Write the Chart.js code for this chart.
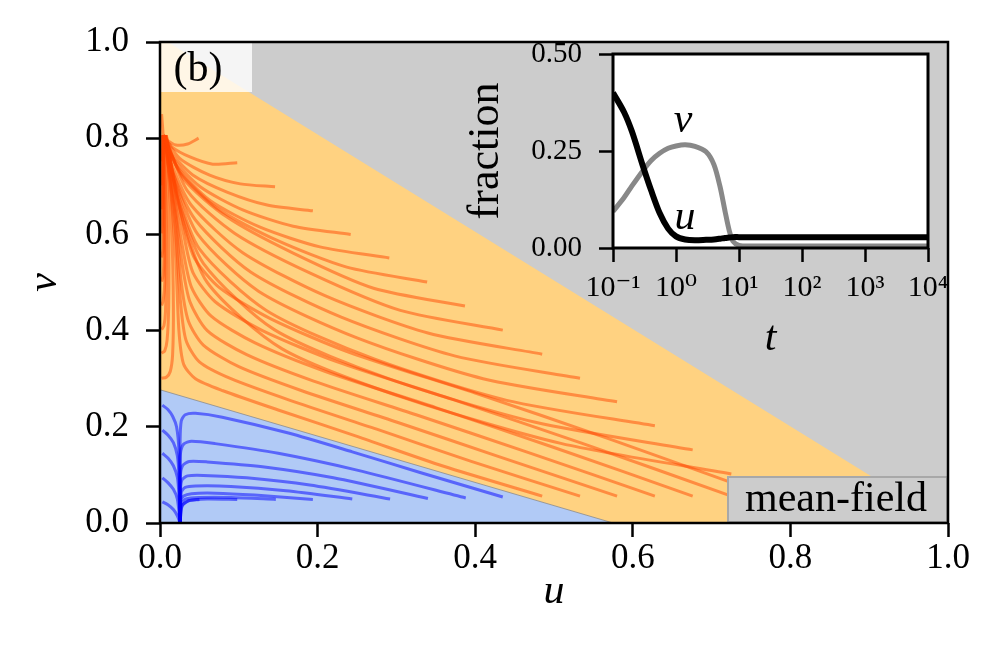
<!DOCTYPE html>
<html>
<head>
<meta charset="utf-8">
<script src="https://cdn.jsdelivr.net/npm/chart.js@4.4.1/dist/chart.umd.min.js"></script>
<style>
  body { margin: 0; background: #fff; }
  #wrap { position: relative; width: 1001px; height: 668px; }
  #main { position: absolute; left: 0; top: 0; }
  #inset { position: absolute; left: 440px; top: 18px; }
</style>
</head>
<body>
<div id="wrap">
  <canvas id="main" width="1001" height="668"></canvas>
  <canvas id="inset" width="518" height="352"></canvas>
</div>
<script>
// regions of the phase plane
const orangeRegion = [[0, 0], [0, 1.01], [0.9, 0.1], [1.0, 0], [0, 0]];
const blueRegion = [[0, 0], [0, 0.277], [0.575, 0], [0, 0]];

// orange trajectories starting on the diagonal edge
const orangeDiagonal = [
  [[0.049, 0.800], [0.035, 0.788], [0.020, 0.786], [0.010, 0.795], [0.004, 0.806]],
  [[0.098, 0.749], [0.067, 0.746], [0.038, 0.761], [0.015, 0.782], [0.004, 0.806]],
  [[0.146, 0.699], [0.102, 0.705], [0.063, 0.723], [0.025, 0.758], [0.004, 0.806]],
  [[0.194, 0.649], [0.136, 0.661], [0.085, 0.688], [0.042, 0.723], [0.015, 0.768], [0.004, 0.806]],
  [[0.242, 0.600], [0.169, 0.617], [0.105, 0.651], [0.051, 0.699], [0.018, 0.755], [0.004, 0.806]],
  [[0.291, 0.551], [0.203, 0.574], [0.127, 0.615], [0.063, 0.671], [0.022, 0.740], [0.004, 0.806]],
  [[0.339, 0.501], [0.237, 0.532], [0.148, 0.588], [0.072, 0.655], [0.025, 0.730], [0.004, 0.806]],
  [[0.387, 0.451], [0.271, 0.488], [0.169, 0.561], [0.085, 0.636], [0.030, 0.715], [0.005, 0.806]],
  [[0.435, 0.401], [0.305, 0.442], [0.190, 0.520], [0.095, 0.602], [0.035, 0.690], [0.006, 0.806]],
  [[0.485, 0.351], [0.340, 0.395], [0.210, 0.472], [0.105, 0.562], [0.040, 0.660], [0.015, 0.745], [0.006, 0.806]],
  [[0.533, 0.301], [0.375, 0.347], [0.230, 0.428], [0.115, 0.522], [0.045, 0.630], [0.016, 0.730], [0.006, 0.806]],
  [[0.580, 0.252], [0.410, 0.300], [0.250, 0.385], [0.125, 0.482], [0.048, 0.600], [0.018, 0.720], [0.007, 0.806]],
  [[0.628, 0.202], [0.440, 0.255], [0.270, 0.342], [0.135, 0.442], [0.050, 0.570], [0.020, 0.700], [0.007, 0.806]],
  [[0.676, 0.152], [0.475, 0.210], [0.290, 0.300], [0.145, 0.402], [0.055, 0.540], [0.022, 0.680], [0.008, 0.806]],
  [[0.725, 0.102], [0.510, 0.165], [0.310, 0.260], [0.155, 0.362], [0.060, 0.500], [0.024, 0.660], [0.008, 0.806]]
];

// orange trajectories starting on the bottom edge (v = 0.05)
const orangeBottom = [
  [[0.485, 0.056], [0.360, 0.118], [0.250, 0.180], [0.150, 0.235], [0.080, 0.275], [0.045, 0.300], [0.030, 0.330], [0.024, 0.400], [0.020, 0.550], [0.012, 0.720], [0.006, 0.806]],
  [[0.533, 0.056], [0.395, 0.128], [0.275, 0.195], [0.165, 0.255], [0.090, 0.300], [0.050, 0.335], [0.033, 0.380], [0.026, 0.460], [0.020, 0.600], [0.011, 0.740], [0.006, 0.806]],
  [[0.580, 0.056], [0.430, 0.138], [0.300, 0.210], [0.180, 0.275], [0.100, 0.325], [0.055, 0.370], [0.036, 0.420], [0.027, 0.500], [0.020, 0.630], [0.010, 0.750], [0.006, 0.806]],
  [[0.628, 0.056], [0.465, 0.148], [0.325, 0.225], [0.195, 0.295], [0.110, 0.350], [0.060, 0.400], [0.038, 0.460], [0.028, 0.540], [0.019, 0.660], [0.010, 0.760], [0.006, 0.806]],
  [[0.676, 0.056], [0.500, 0.157], [0.350, 0.240], [0.210, 0.315], [0.120, 0.375], [0.065, 0.430], [0.040, 0.490], [0.029, 0.570], [0.018, 0.680], [0.010, 0.765], [0.006, 0.806]],
  [[0.725, 0.056], [0.535, 0.166], [0.375, 0.255], [0.225, 0.335], [0.130, 0.400], [0.070, 0.460], [0.042, 0.520], [0.030, 0.600], [0.018, 0.700], [0.009, 0.770], [0.006, 0.806]],
  [[0.773, 0.056], [0.570, 0.175], [0.400, 0.270], [0.240, 0.355], [0.140, 0.425], [0.075, 0.490], [0.044, 0.550], [0.030, 0.620], [0.018, 0.710], [0.009, 0.775], [0.006, 0.806]]
];

// orange trajectories starting at the left edge
const orangeLeft = [
  [[0.002, 0.301], [0.008, 0.303], [0.013, 0.315], [0.016, 0.350], [0.017, 0.450], [0.015, 0.600], [0.010, 0.740], [0.005, 0.806]],
  [[0.002, 0.353], [0.006, 0.358], [0.009, 0.380], [0.011, 0.450], [0.011, 0.600], [0.008, 0.740], [0.005, 0.806]],
  [[0.002, 0.402], [0.005, 0.410], [0.007, 0.440], [0.008, 0.550], [0.007, 0.700], [0.004, 0.806]],
  [[0.002, 0.452], [0.004, 0.462], [0.006, 0.500], [0.006, 0.650], [0.004, 0.806]],
  [[0.002, 0.502], [0.004, 0.515], [0.005, 0.560], [0.005, 0.700], [0.004, 0.806]],
  [[0.002, 0.552], [0.004, 0.570], [0.004, 0.650], [0.004, 0.806]],
  [[0.002, 0.602], [0.003, 0.620], [0.004, 0.700], [0.004, 0.806]],
  [[0.002, 0.652], [0.003, 0.670], [0.004, 0.806]],
  [[0.002, 0.702], [0.003, 0.720], [0.004, 0.806]],
  [[0.002, 0.752], [0.003, 0.770], [0.004, 0.806]],
  [[0.002, 0.850], [0.003, 0.830], [0.004, 0.806]]
];

// blue trajectories starting on the bottom edge
const blueBottom = [
  [[0.435, 0.054], [0.330, 0.105], [0.244, 0.148], [0.163, 0.187], [0.079, 0.220], [0.045, 0.228], [0.032, 0.225], [0.027, 0.212], [0.0255, 0.170], [0.0255, 0.0]],
  [[0.388, 0.052], [0.250, 0.110], [0.150, 0.145], [0.070, 0.165], [0.040, 0.170], [0.030, 0.164], [0.026, 0.145], [0.0255, 0.100], [0.0255, 0.0]],
  [[0.340, 0.051], [0.220, 0.094], [0.130, 0.117], [0.060, 0.127], [0.037, 0.128], [0.029, 0.120], [0.026, 0.100], [0.0255, 0.0]],
  [[0.292, 0.050], [0.190, 0.079], [0.110, 0.094], [0.055, 0.099], [0.035, 0.098], [0.028, 0.090], [0.026, 0.070], [0.0255, 0.0]],
  [[0.244, 0.050], [0.160, 0.067], [0.090, 0.076], [0.045, 0.077], [0.032, 0.074], [0.027, 0.064], [0.0255, 0.0]],
  [[0.194, 0.049], [0.120, 0.058], [0.070, 0.062], [0.040, 0.061], [0.030, 0.056], [0.026, 0.045], [0.0255, 0.0]],
  [[0.147, 0.049], [0.090, 0.053], [0.050, 0.053], [0.033, 0.050], [0.027, 0.040], [0.0255, 0.0]],
  [[0.098, 0.049], [0.060, 0.050], [0.038, 0.047], [0.028, 0.036], [0.0255, 0.0]],
  [[0.050, 0.049], [0.036, 0.046], [0.028, 0.035], [0.0255, 0.0]]
];

// blue trajectories starting at the left edge
const blueLeft = [
  [[0.003, 0.245], [0.010, 0.236], [0.016, 0.222], [0.021, 0.200], [0.024, 0.150], [0.0255, 0.0]],
  [[0.003, 0.193], [0.010, 0.183], [0.017, 0.167], [0.022, 0.140], [0.024, 0.100], [0.0255, 0.0]],
  [[0.003, 0.145], [0.010, 0.135], [0.017, 0.119], [0.022, 0.095], [0.024, 0.060], [0.0255, 0.0]],
  [[0.003, 0.094], [0.010, 0.084], [0.017, 0.070], [0.022, 0.050], [0.0255, 0.0]],
  [[0.003, 0.044], [0.010, 0.038], [0.017, 0.028], [0.022, 0.015], [0.0255, 0.0]]
];

const mainTicks = [0, 0.2, 0.4, 0.6, 0.8, 1.0];

// inset time series
const insetTime = [0.1, 0.15, 0.2, 0.3, 0.4, 0.55, 0.75, 1.0, 1.4, 2, 3, 4, 5, 6, 7, 8, 10, 15, 30, 100, 1000, 10000];
const uFraction = [0.400, 0.350, 0.300, 0.210, 0.150, 0.090, 0.050, 0.030, 0.022, 0.020, 0.021, 0.022, 0.024, 0.026, 0.027, 0.028, 0.028, 0.028, 0.028, 0.028, 0.028, 0.028];
const vFraction = [0.094, 0.130, 0.160, 0.200, 0.225, 0.244, 0.257, 0.263, 0.266, 0.262, 0.248, 0.215, 0.158, 0.095, 0.045, 0.018, 0.007, 0.005, 0.005, 0.005, 0.005, 0.005];
const insetXTicks = [0.1, 1, 10, 100, 1000, 10000];
const insetXLabels = ['10\u207B\u00B9', '10\u2070', '10\u00B9', '10\u00B2', '10\u00B3', '10\u2074'];
const insetYTicks = [0, 0.25, 0.5];

const SERIF = "'Liberation Serif', 'DejaVu Serif', serif";
Chart.defaults.font.family = SERIF;
Chart.defaults.color = '#000';

function toPoints(line) {
    return line.map(p => ({ x: p[0], y: p[1] }));
}

function trajectory(line, color) {
    return {
        data: toPoints(line),
        showLine: true,
        borderColor: color,
        borderWidth: 3,
        pointRadius: 0,
        tension: 0.25,
        fill: false,
        order: 0
    };
}

// Build the datasets
let datasets = [];
orangeDiagonal.concat(orangeBottom, orangeLeft).forEach(line => {
    datasets.push(trajectory(line, 'rgba(255, 69, 0, 0.5)'));
});
blueBottom.concat(blueLeft).forEach(line => {
    datasets.push(trajectory(line, 'rgba(0, 0, 255, 0.5)'));
});
datasets.push({
    data: toPoints(blueRegion), showLine: true, pointRadius: 0, tension: 0,
    borderColor: 'rgba(140, 140, 140, 0.8)', borderWidth: 1,
    backgroundColor: '#b1caf6', fill: 'shape', order: 19
});
datasets.push({
    data: toPoints(orangeRegion), showLine: true, pointRadius: 0, tension: 0,
    borderWidth: 0, borderColor: 'rgba(0,0,0,0)',
    backgroundColor: '#ffd281', fill: 'shape', order: 20
});

const mainDecor = {
    id: 'mainDecor',
    beforeDatasetsDraw(chart) {
        const { ctx, chartArea: a } = chart;
        ctx.save();
        ctx.fillStyle = '#cccccc';
        ctx.fillRect(a.left, a.top, a.right - a.left, a.bottom - a.top);
        ctx.restore();
    },
    afterDatasetsDraw(chart) {
        const { ctx, chartArea: a } = chart;
        ctx.save();
        // panel label
        ctx.fillStyle = 'rgba(255, 255, 255, 0.8)';
        ctx.fillRect(a.left, a.top, 92, 50);
        ctx.fillStyle = '#000';
        ctx.font = '42px ' + SERIF;
        ctx.textAlign = 'center';
        ctx.textBaseline = 'middle';
        ctx.fillText('(b)', a.left + 38, a.top + 28);
        // mean-field label
        ctx.fillStyle = '#cccccc';
        ctx.fillRect(727, 476, a.right - 727, a.bottom - 476);
        ctx.strokeStyle = '#a8a8a8';
        ctx.lineWidth = 2;
        ctx.strokeRect(728, 477, a.right - 729, a.bottom - 478);
        ctx.fillStyle = '#000';
        ctx.fillText('mean-field', 836, 500);
        // frame
        ctx.strokeStyle = '#000';
        ctx.lineWidth = 2.5;
        ctx.strokeRect(a.left, a.top, a.right - a.left, a.bottom - a.top);
        ctx.restore();
    }
};

new Chart(document.getElementById('main'), {
    type: 'scatter',
    data: { datasets: datasets },
    options: {
        responsive: false,
        animation: false,
        devicePixelRatio: 1,
        layout: { padding: { left: 0, top: 42, right: 53, bottom: 0 } },
        plugins: { legend: { display: false }, tooltip: { enabled: false } },
        scales: {
            x: {
                type: 'linear', min: 0, max: 1,
                afterBuildTicks: s => { s.ticks = mainTicks.map(v => ({ value: v })); },
                afterFit: s => { s.height = 145; },
                ticks: { font: { size: 35 }, padding: 1, maxRotation: 0, callback: v => v.toFixed(1) },
                grid: { drawOnChartArea: false, tickLength: 14, tickWidth: 2.5, tickColor: '#000' },
                border: { display: false },
                title: { display: true, text: 'u', font: { size: 42, style: 'italic' }, padding: { top: 0, bottom: 51 } }
            },
            y: {
                type: 'linear', min: 0, max: 1,
                afterBuildTicks: s => { s.ticks = mainTicks.map(v => ({ value: v })); },
                afterFit: s => { s.width = 160; },
                ticks: { font: { size: 35 }, padding: 17, callback: v => v.toFixed(1) },
                grid: { drawOnChartArea: false, tickLength: 14, tickWidth: 2.5, tickColor: '#000' },
                border: { display: false },
                title: { display: true, text: 'v', font: { size: 42, style: 'italic' }, padding: { top: 20, bottom: 0 } }
            }
        }
    },
    plugins: [mainDecor]
});

// Inset chart
const insetDecor = {
    id: 'insetDecor',
    beforeDatasetsDraw(chart) {
        const { ctx, chartArea: a } = chart;
        ctx.save();
        ctx.fillStyle = '#ffffff';
        ctx.fillRect(a.left, a.top, a.right - a.left, a.bottom - a.top);
        ctx.restore();
    },
    afterDatasetsDraw(chart) {
        const { ctx, chartArea: a } = chart;
        ctx.save();
        ctx.strokeStyle = '#000';
        ctx.lineWidth = 3;
        ctx.strokeRect(a.left, a.top, a.right - a.left, a.bottom - a.top);
        ctx.fillStyle = '#000';
        ctx.font = 'italic 42px ' + SERIF;
        ctx.textAlign = 'center';
        ctx.textBaseline = 'middle';
        ctx.fillText('v', a.left + 70, a.top + 67);
        ctx.fillText('u', a.left + 72, a.top + 164);
        ctx.restore();
    }
};

new Chart(document.getElementById('inset'), {
    type: 'line',
    data: {
        datasets: [
            {
                data: insetTime.map((t, i) => ({ x: t, y: uFraction[i] })),
                borderColor: '#000', borderWidth: 6, pointRadius: 0, tension: 0.3, fill: false
            },
            {
                data: insetTime.map((t, i) => ({ x: t, y: vFraction[i] })),
                borderColor: '#888888', borderWidth: 5, pointRadius: 0, tension: 0.3, fill: false
            }
        ]
    },
    options: {
        responsive: false,
        animation: false,
        devicePixelRatio: 1,
        layout: { padding: { left: 0, top: 36, right: 30, bottom: 0 } },
        plugins: { legend: { display: false }, tooltip: { enabled: false } },
        scales: {
            x: {
                type: 'logarithmic', min: 0.1, max: 10000,
                afterBuildTicks: s => { s.ticks = insetXTicks.map(v => ({ value: v })); },
                afterFit: s => { s.height = 122; },
                ticks: { font: { size: 30 }, padding: 8, maxRotation: 0, autoSkip: false, callback: (v, i) => insetXLabels[i] },
                grid: { drawOnChartArea: false, tickLength: 14, tickWidth: 2.5, tickColor: '#000' },
                border: { display: false },
                title: { display: true, text: 't', font: { size: 42, style: 'italic' }, padding: { top: 0, bottom: 6 } }
            },
            y: {
                type: 'linear', min: 0, max: 0.5,
                afterBuildTicks: s => { s.ticks = insetYTicks.map(v => ({ value: v })); },
                afterFit: s => { s.width = 173; },
                ticks: { font: { size: 29 }, padding: 17, callback: v => v.toFixed(2) },
                grid: { drawOnChartArea: false, tickLength: 14, tickWidth: 2.5, tickColor: '#000' },
                border: { display: false },
                title: { display: true, text: 'fraction', font: { size: 44 }, padding: { top: 20, bottom: 0 } }
            }
        }
    },
    plugins: [insetDecor]
});
</script>
</body>
</html>
